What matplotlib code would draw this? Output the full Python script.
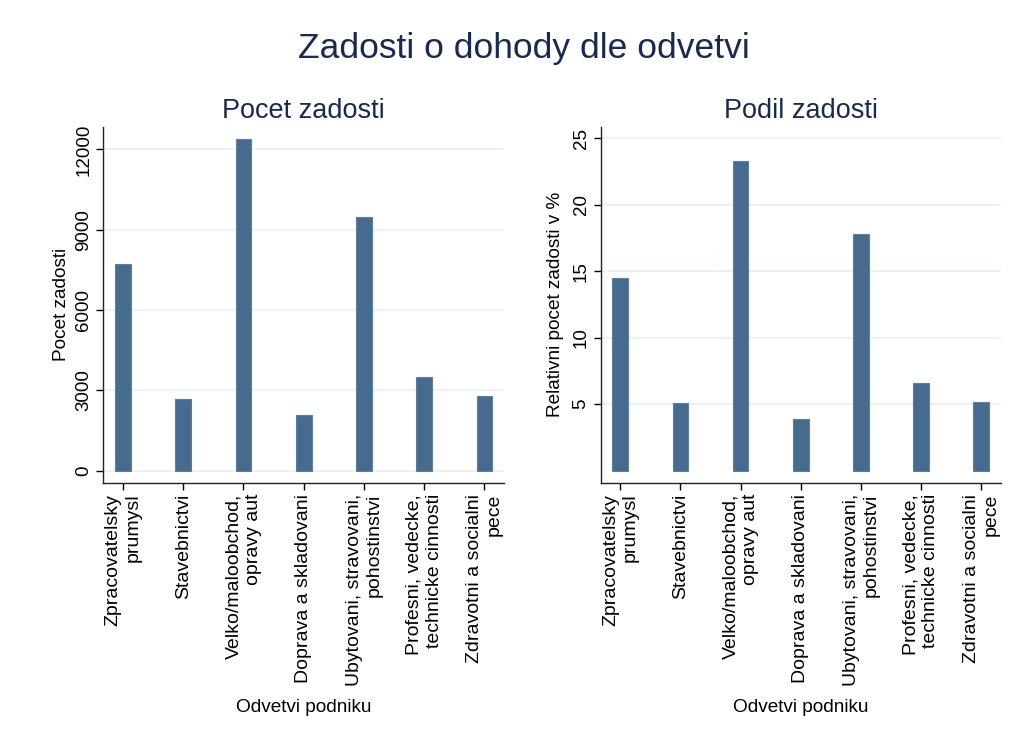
import matplotlib.pyplot as plt

plt.rcParams['font.family'] = ['Liberation Sans', 'DejaVu Sans']

# data
odvetvi = ['Zpracovatelsky\nprumysl', 'Stavebnictvi', 'Velko/maloobchod,\nopravy aut',
           'Doprava a skladovani', 'Ubytovani, stravovani,\npohostinstvi',
           'Profesni, vedecke,\ntechnicke cinnosti', 'Zdravotni a socialni\npece']
pocet = [7720, 2680, 12390, 2070, 9460, 3490, 2780]
podil = [14.51, 5.07, 23.31, 3.89, 17.77, 6.57, 5.19]

bar_col = '#476b8e'
edge_col = '#5d7f9e'
grid_col = '#e8f0f2'
navy = '#1a2a4f'

fig = plt.figure(figsize=(10.21, 7.53), dpi=100)
ax1 = fig.add_axes([0.1012, 0.359, 0.3925, 0.4727])
ax2 = fig.add_axes([0.5883, 0.359, 0.3919, 0.4727])

x = list(range(len(odvetvi)))


def style(ax, yticks, ylim, title, ylabel, ylab_x):
    ax.set_xlim(-0.325, 6.325)
    ax.set_ylim(*ylim)
    ax.set_yticks(yticks)
    ax.set_xticks(x)
    ax.set_xticklabels(odvetvi, rotation=90, ha='center', va='top',
                       multialignment='right', fontsize=14)
    ax.tick_params(axis='y', labelrotation=90, labelsize=13.5, length=5, width=1, pad=3)
    ax.tick_params(axis='x', length=5, width=1, pad=3)
    for lab in ax.get_yticklabels():
        lab.set_va('center')
    ax.grid(axis='y', color=grid_col, lw=1.2)
    ax.set_axisbelow(True)
    for s in ['top', 'right']:
        ax.spines[s].set_visible(False)
    for s in ['left', 'bottom']:
        ax.spines[s].set_color('#222222')
        ax.spines[s].set_linewidth(1)
    ax.set_title(title, fontsize=19.5, color=navy, pad=6)
    ax.set_ylabel(ylabel, fontsize=13.7)
    ax.yaxis.set_label_coords(ylab_x, 0.5)
    ax.set_xlabel('Odvetvi podniku', fontsize=13.7)
    ax.xaxis.label.set_va('center')
    ax.xaxis.set_label_coords(0.5, -0.632)


ax1.bar(x, pocet, width=0.26, color=bar_col, edgecolor=edge_col, lw=0.8)
style(ax1, [0, 3000, 6000, 9000, 12000], (-448, 12845), 'Pocet zadosti',
      'Pocet zadosti', -0.083)

ax2.bar(x, podil, width=0.26, color=bar_col, edgecolor=edge_col, lw=0.8)
style(ax2, [5, 10, 15, 20, 25], (-0.9, 25.86), 'Podil zadosti',
      'Relativni pocet zadosti v %', -0.092)

fig.text(0.513, 0.936, 'Zadosti o dohody dle odvetvi', fontsize=25.5, color=navy,
         ha='center', va='center')

fig.savefig('out.png', dpi=100, facecolor='white')
